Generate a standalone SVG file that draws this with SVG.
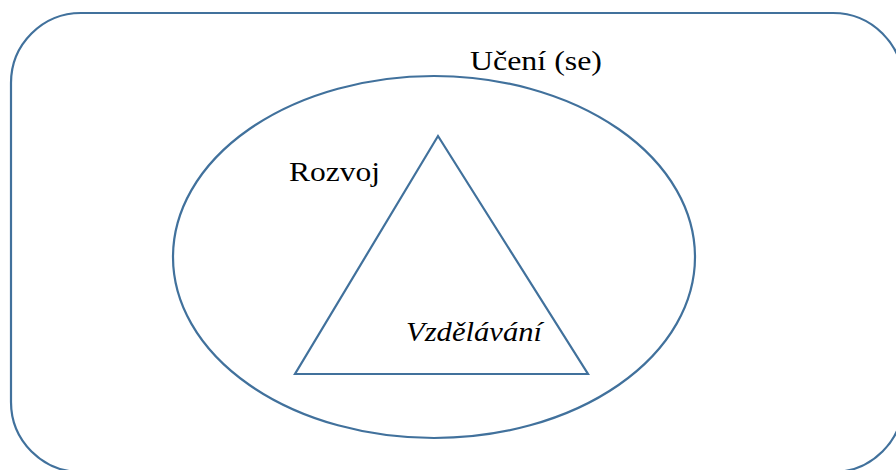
<svg xmlns="http://www.w3.org/2000/svg" width="896" height="470" viewBox="0 0 896 470">
<style>
.s{fill:none;stroke:#41719C;stroke-width:2.2}
.t{font-family:"Liberation Serif","Times New Roman",serif;font-size:28px;fill:#000}
</style>
<rect width="896" height="470" fill="#fff"/>
<g id="uceni">
<rect class="s" x="11" y="13" width="892" height="459" rx="70" ry="70"/>
<text class="t" x="470" y="70" textLength="132" lengthAdjust="spacingAndGlyphs">Učení (se)</text>
</g>
<g id="rozvoj">
<ellipse class="s" cx="434" cy="257" rx="261" ry="181"/>
<text class="t" x="289" y="181" textLength="91" lengthAdjust="spacingAndGlyphs">Rozvoj</text>
</g>
<g id="vzdelavani">
<polygon class="s" points="438,136 588,374 295,374"/>
<text class="t" x="406" y="341" font-style="italic" textLength="136" lengthAdjust="spacingAndGlyphs">Vzdělávání</text>
</g>
<g id="connectors"/>
</svg>
